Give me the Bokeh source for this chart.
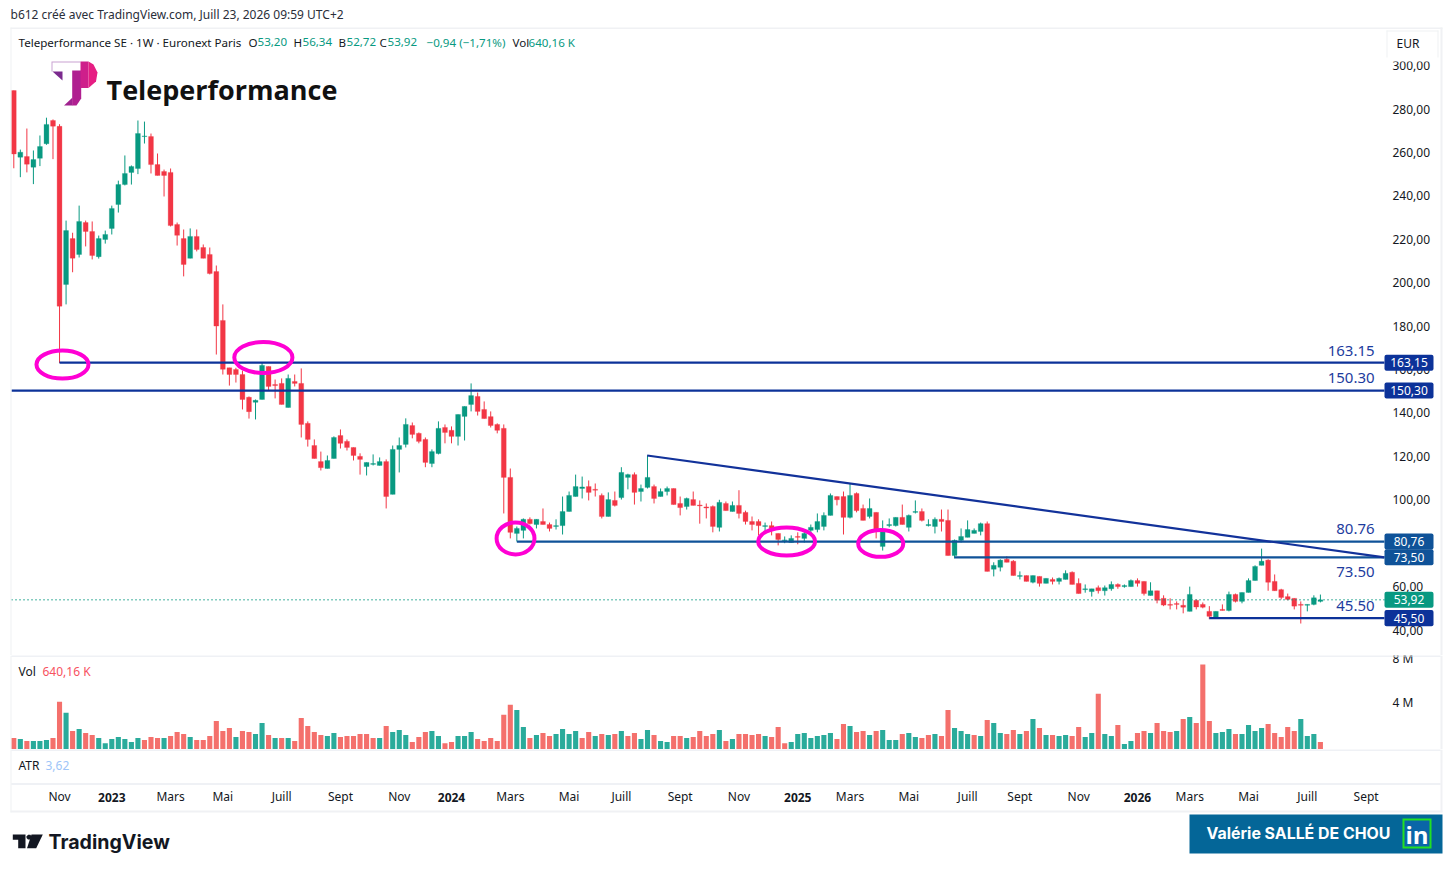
from bokeh.plotting import figure
from bokeh.layouts import column
from bokeh.models import (Range1d, LinearAxis, FixedTicker, Label, BoxAnnotation, PolyAnnotation,
                          ColumnDataSource)
from bokeh.core.properties import value
from bokeh.embed import file_html
from bokeh.resources import INLINE

opens = [288.5,257.8,258.1,253.2,257.3,264,274.7,272,199.2,220.3,
213,227.7,223.6,212,219.9,225,236,245.2,250.8,252.6,
267.3,267.3,254.4,251.2,250.8,226.8,220.3,211.2,221.3,216.2,
213,205.1,182.6,160.8,160,157.7,147.2,144.9,146.2,161.4,
153.1,153.6,142.5,154.5,153.6,135.2,125,117.6,114.4,119,
129.6,126.9,124.1,120,115.3,116.3,115.8,117.6,102.5,123.2,
125.5,134.2,130.6,127.8,116.7,121.3,133.3,132,129.2,138.4,
143.9,147.6,141.6,138.3,134.7,132.9,110.3,84.5,85.9,91,
88.6,90,88.6,87.7,88.1,94.6,101.5,105.2,106.1,104.8,
102,92.3,99.7,101,110.3,111.6,103.8,105.7,106.1,101.5,
103.8,105.2,98.3,96.9,100.1,97.6,96.7,96.9,87.3,98.3,
94.6,97.4,94.2,90,90,87.7,88.1,84.5,81.2,80.3,
83.1,82.2,85.9,86.3,87.7,92.8,101.5,101.5,91.9,102.9,
96,92.3,94.2,78.5,88.1,88.1,91.9,87.3,94.2,94.6,
88.1,87.7,91,90.5,74.3,81.3,82.7,84.5,85.4,89,
68,68.9,72.6,71.7,64.7,65.1,62,64.7,61.5,63.3,
62.4,63.3,66.6,61.5,58.6,57.7,59.5,58.1,59,61,
60,60,62.8,62.4,55.9,58.1,54.6,51.8,52.2,51.4,
48.6,53.7,51.8,48.6,46,49.5,49,56.4,53.2,57.3,
62.8,69.8,72.2,62.4,58.6,55.4,54.6,51.8,51.4,51.8,
53.2]
highs = [288.5,261.3,271,260.9,267.8,276,275.2,273,228.6,223,
235.5,228.6,228.2,221.7,224,235.5,247,258.6,254,274.7,
274.2,268.7,259.5,252.1,252.6,227.7,224.5,225,224.5,217.6,
216.2,207.9,190,160.8,160.8,159.5,147.6,146.2,163.2,161.4,
155.4,155.9,157.7,157.7,160.5,136.1,127.8,122.2,120.4,129.2,
132.4,127.8,124.1,121.4,117.2,120.9,119.5,118.6,125,128.7,
137.5,135.6,131,128.7,123.2,136.1,134.7,133.8,139.3,143,
153.6,149.4,145.3,140.7,135.2,134.7,114.4,87.7,91.4,91.9,
91,96,89.5,91,101.5,103.8,111.6,110.7,108.9,107.5,
102.9,103.4,103.8,115,112,112.6,107,120.4,107,105.2,
106.1,105.2,101.5,101,103.8,99.7,98.3,97.4,100,99.2,
99.2,104.4,95,92.3,91,89.5,90,84.5,83.1,83.6,
85,86.3,88.6,93.7,94.2,102.9,101.5,103.8,107.5,103.4,
97.8,100.6,94.2,90.5,91.4,91.9,97.8,93.2,99.7,96,
91,91.9,95.5,95.5,81.7,86.8,90.5,86.8,89.5,90,
71.2,72.6,74,72.2,67,65.1,65.1,64.7,63.8,64.2,
64.2,67.5,67,63.8,61,59,60.5,60.5,62.4,61.5,
61,63.3,63.8,62.4,62,58.1,56,54.6,53.2,54.1,
60,54.1,52.7,51,48.6,51.8,57.7,56.8,57.3,63.8,
69.8,77.5,72.6,65.6,59,56.8,54.6,53.2,51.8,56,
56.34]
lows = [252.7,248.6,250.8,245.4,253.7,263.5,256.9,163,190,204.8,
211.6,216.7,210.7,211.1,218,222.2,232.3,244.8,245.2,250,
264.1,250.3,249.4,239.7,225.9,217.1,202.9,211.2,214.4,211.2,
203.8,166.9,157.7,152.6,154,141.6,137.4,137,146.2,150.3,
146.7,143.9,142.5,152.2,128.7,124.5,119,113.5,114.4,119,
123.6,122.7,118.1,111.6,111.2,115.8,115.8,96,102.5,112.6,
124.1,128.3,126,115,115,120.9,126,126,125,127.3,
140.7,138.8,137.4,133.3,130.6,93.7,82.2,80.8,82.2,88.6,
86.8,88.6,85.4,86.3,84,94.6,101.5,100.6,99.7,101.5,
91.4,92.3,96.9,100.1,104.8,97.8,99.2,105.2,98.3,101.5,
102,97.8,92.8,95.5,97.4,89,91.4,85,85.4,95,
94.6,91.4,88.6,85.9,83.6,85.4,83.6,79,80,80.3,
79.5,80.3,84.5,85,85.9,92.8,97.4,84,91.4,94.2,
90.5,91.4,82.2,76.6,87.3,87.7,88.6,85.4,93.7,90,
87.7,84.5,85.4,74.3,73,80.3,82.7,84.5,83.6,67,
64.7,67,71.2,65.1,63.3,62.4,61.5,60,61.5,61,
61,63.3,61,56.8,57.2,55.4,56.8,55.9,58.1,59,
59.5,60,60,55.9,55.9,52.3,51,49.5,49.5,47.7,
48.6,49.5,50,45,46,49,48.6,52.7,52.3,57.3,
62.8,69.8,58.1,58.1,54.1,53.7,49.5,43,48.6,51.4,
52.72]
closes = [259.3,260.1,254.6,256.7,262.7,272.9,272.1,189.2,224,211.3,
228.2,223.6,212.5,220.3,222.2,234.2,245.2,250.3,253.5,268.7,
267.6,254.4,249.4,249.4,226.3,221.8,208.4,221.3,215.3,211.2,
204.2,180,160.1,157.7,157.7,146.2,140.6,145.8,161.9,152.2,
152.6,143.9,155.9,153.6,134.7,127.8,119,114.8,118.1,128.7,
126,124.1,120.4,118.6,117.2,116.7,117.6,101.5,123.2,125,
134.7,130.1,126.9,117.2,122.2,132.9,131,129.2,139.3,143,
148,140.7,137.4,134.2,132,110.3,85,86.8,91,89,
91,88.6,86.8,88.1,94.6,102,106.1,105.9,103.4,104.4,
92.3,100.1,97.4,112.6,111.6,103.4,105.2,110.3,100.6,103.8,
105.2,97.8,96.4,100.6,97.4,97.2,96.2,87.7,98.8,95,
97.4,93.7,90,88.6,88.1,88.1,85.9,81.7,81.5,82.2,
82.7,84.5,87.3,90,92.8,102,100,91.9,102,95,
90.5,96,85.4,85.6,88.6,91.9,88.6,92.8,94.6,90.5,
88.6,91,90,74.3,81.3,83.1,86.3,85.9,89,67,
69.8,72.2,71.2,65.1,65.1,62.4,65.1,61.5,63.8,62.4,
63.8,66.1,61,56.8,59,59,58.1,59.5,61,60,
60.5,62.8,61.5,56.8,58.1,53.7,51.5,51.4,51.8,50.5,
56.4,50.6,50.5,46.3,48.6,49,56.4,53.2,57.3,62.8,
69.3,71.7,62,58.1,55,54.1,51,51.4,51.8,54.86,
53.92]
volumes_m = [.97,.89,.72,.72,.72,.80,.97,4.06,3.12,1.57,
1.74,1.40,1.23,.97,.54,.89,1.06,.89,.63,.97,
.80,1.06,.97,.97,1.14,1.49,1.32,1.06,.80,.80,
1.14,2.43,1.57,1.83,1.06,1.57,1.49,1.32,2.26,1.23,
.97,.97,.97,.72,2.69,2.0,1.49,1.23,1.14,1.40,
1.06,1.14,1.14,1.32,1.32,.97,.97,2.0,1.49,1.66,
1.23,.63,1.06,1.49,1.57,1.14,.54,.63,1.14,1.14,
1.49,.89,.72,.97,.72,2.95,3.8,3.37,1.92,.97,
1.23,1.40,1.14,1.32,1.74,1.32,1.57,.97,1.49,1.14,
1.32,1.23,1.32,1.57,1.14,1.40,.89,1.66,1.23,.72,
.63,1.14,1.14,.97,1.06,1.57,1.14,1.32,1.66,.72,
.89,1.32,1.32,1.23,1.32,1.14,1.06,1.92,.54,.63,
1.32,1.40,.97,1.14,1.23,1.40,.89,2.17,2.0,1.49,
1.57,1.23,1.57,1.66,.80,.80,1.32,1.40,1.06,.97,
1.23,1.32,1.14,3.37,1.83,1.57,1.32,1.23,1.14,2.52,
2.26,1.40,1.32,1.66,1.32,1.57,2.6,1.83,1.23,1.23,
1.14,1.23,1.14,1.92,1.06,1.40,4.75,1.32,1.14,2.09,
.46,.72,1.40,1.57,1.40,2.26,1.57,1.49,1.57,2.6,
2.77,2.26,7.24,2.43,1.40,1.49,1.74,1.32,1.32,2.09,
1.57,1.83,2.17,1.40,1.06,1.92,1.57,2.6,1.14,1.32,
.64]
assert all(len(a) == 201 for a in (opens, highs, lows, closes, volumes_m))

price_ticks = [40,60,80,100,120,140,160,180,200,220,240,260,280,300]
level_values = [163.15, 150.30, 80.76, 73.50, 45.50]
level_starts = [7, -0.35, 77, 144, 183]
level_colors = ["#0C3299", "#0C3299", "#0F5298", "#0F5298", "#0C3299"]
level_notes = ["163.15", "150.30", "80.76", "73.50", "45.50"]
note_prices = [168.6, 156.0, 86.5, 66.6, 51.0]
trend_x = [96.95, 209.8]
trend_y = [120.4, 73.5]
last_close = 53.92
ring_x = [7.45, 38.2, 76.8, 118.3, 132.7]
ring_y = [162.3, 165.5, 82.2, 80.8, 79.9]
ring_w = [7.96, 8.9, 5.8, 8.7, 6.9]
ring_h = [12.9, 14.3, 14.7, 12.9, 12.4]
time_idx = [7,15,24,32,41,50,59,67,76,85,93,102,111,120,128,137,146,154,163,172,180,189,198,207]
time_txt = ["Nov","2023","Mars","Mai","Juill","Sept","Nov","2024","Mars","Mai","Juill","Sept",
            "Nov","2025","Mars","Mai","Juill","Sept","Nov","2026","Mars","Mai","Juill","Sept"]

RED, GREEN = "#F23645", "#089981"
VRED, VGREEN = "#F4706C", "#2AAB9B"
GRID = "#E0E3EB"; EDGE = "#F0F1F4"; INK = "#131722"
FONT = "Noto Sans"

W = 1445
x_range = Range1d(-2.036, 219.15)

def fig(h, yr):
    f = figure(width=W, height=h, x_range=x_range, y_range=yr, output_backend="svg", toolbar_location=None,
               min_border_left=0, min_border_right=0, min_border_top=0, min_border_bottom=0,
               x_axis_type=None, y_axis_type=None, outline_line_color=None,
               background_fill_color="white", border_fill_color="white")
    f.grid.visible = False
    return f

main = fig(655, Range1d(28.27, 329.98))
vol = fig(94, Range1d(0, 8.0))
atr = fig(116, Range1d(0, 1))
TOP = {id(main): 0, id(vol): 655, id(atr): 749}
LEVEL = "overlay"

def text(f, px, py, s, color=INK, size=12, font=FONT, style="normal", align="left"):
    t = TOP[id(f)]
    f.add_layout(Label(x=px, y=py-t, x_units="canvas", y_units="canvas", text=s, text_color=color,
                       text_font_size=f"{size}px", text_font=font, text_font_style=style,
                       text_align=align, text_baseline="middle", level=LEVEL))

def box(f, l, r, t_, b, color, radius=0):
    t = TOP[id(f)]
    f.add_layout(BoxAnnotation(left=l, right=r, top=t_-t, bottom=b-t, left_units="canvas", right_units="canvas",
                               top_units="canvas", bottom_units="canvas", fill_color=color, fill_alpha=1,
                               line_color=None, border_radius=radius, level=LEVEL))

def poly(f, xs, ys, color):
    t = TOP[id(f)]
    f.add_layout(PolyAnnotation(xs=list(xs), ys=[y-t for y in ys], xs_units="canvas", ys_units="canvas",
                                fill_color=color, fill_alpha=1, line_color=None, level=LEVEL))

idx = list(range(201))
src = ColumnDataSource(dict(x=idx, o=opens, h=highs, l=lows, c=closes,
    top=[max(a, b) for a, b in zip(opens, closes)], bot=[min(a, b) for a, b in zip(opens, closes)],
    col=[GREEN if c >= o else RED for o, c in zip(opens, closes)]))
main.segment("x", "h", "x", "l", source=src, line_color="col", line_width=1)
main.vbar("x", 0.74, "top", "bot", source=src, fill_color="col", line_color="col", line_width=0.3)
main.line([-0.35, 209.8], [last_close, last_close], line_color=GREEN, line_width=1.5, line_dash="1 3")
main.segment(level_starts, level_values, [209.8]*5, level_values, line_color=level_colors, line_width=2.2)
main.line(trend_x, trend_y, line_color="#12329A", line_width=2.2)
main.ellipse(ring_x, ring_y, width=ring_w, height=ring_h, fill_color=None, line_color="#FF00D4", line_width=4)
main.text([208.3]*5, note_prices, text=level_notes, text_color="#1D3C9E", text_font=value(FONT),
          text_font_size="15px", text_align="right", text_baseline="middle")

def axis_style():
    return dict(major_tick_line_color=None, minor_tick_line_color=None, axis_line_color=None,
                major_tick_out=0, major_tick_in=0, minor_tick_out=0, minor_tick_in=0,
                major_label_text_font=FONT, major_label_text_font_size="12px", major_label_text_color=INK)

pa = LinearAxis(ticker=FixedTicker(ticks=price_ticks),
                major_label_overrides={v: f"{v},00" for v in price_ticks},
                major_label_standoff=-53, **axis_style())
main.add_layout(pa, "right")

for v, c, s in zip(level_values + [last_close], level_colors + [GREEN],
                   ["163,15", "150,30", "80,76", "73,50", "45,50", "53,92"]):
    main.add_layout(BoxAnnotation(left=1384, right=1433, left_units="canvas", right_units="canvas",
                                  top=v+3.7, bottom=v-3.7, fill_color=c, fill_alpha=1, line_color=None,
                                  border_radius=2, level=LEVEL))
    main.add_layout(Label(x=1408.5, y=v, x_units="canvas", text=s, text_color="white", text_font=FONT,
                          text_font_size="12px", text_align="center", text_baseline="middle", level=LEVEL))

text(main, 10, 14, "b612 créé avec TradingView.com, Juill 23, 2026 09:59 UTC+2", "#2A2E39")
text(main, 18, 41.5, "Teleperformance SE · 1W · Euronext Paris", size=11.6)
for px, s, c in [(248, "O", INK), (257, "53,20", GREEN), (293, "H", INK), (302, "56,34", GREEN),
                 (338, "B", INK), (346, "52,72", GREEN), (379, "C", INK), (387, "53,92", GREEN),
                 (426, "−0,94 (−1,71%)", GREEN), (512, "Vol", INK), (528, "640,16 K", GREEN)]:
    text(main, px, 41.5, s, c, size=11.6)

box(main, 1386, 1438, 30, 61, "white")
box(main, 1386, 1438, 30, 31, EDGE); box(main, 1386, 1387, 30, 57, EDGE); box(main, 1437, 1438, 30, 57, EDGE)
text(main, 1396, 43, "EUR")

poly(main, [51, 80, 80, 52, 52, 51], [61, 61, 62, 62, 71, 71], "#C9A2D2")
poly(main, [52, 62, 62], [71, 71, 80], "#7B2A8E")
poly(main, [63.5, 72, 72], [105, 105, 97], "#A0228F")
poly(main, [71.7, 80.7, 80.7, 76, 71.7], [70, 70, 98, 105, 105], "#B01F90")
poly(main, [80, 88, 88, 80], [61, 61, 87.5, 87.5], "#CE1F8B")
poly(main, [88, 93, 97, 95.5, 88], [61, 64, 72, 81, 87.5], "#E61E83")
text(main, 106, 88.5, "Teleperformance", "#111111", 27, "Open Sans", "bold")

prev = [None] + closes[:-1]
vcol = [VRED if p is None or c < p else VGREEN for c, p in zip(closes, prev)]
vol.vbar(idx, 0.78, volumes_m, 0, fill_color=vcol, line_color=None)
va = LinearAxis(ticker=FixedTicker(ticks=[4]), major_label_overrides={4: "4 M"},
                major_label_standoff=-53, **axis_style())
vol.add_layout(va, "right")
text(vol, 1392, 657.5, "8 M")
text(vol, 18, 671, "Vol")
text(vol, 42, 671, "640,16 K", "#F7525F")

ta = LinearAxis(ticker=FixedTicker(ticks=time_idx),
                major_label_overrides={i: ("" if s.isdigit() else s) for i, s in zip(time_idx, time_txt)},
                major_label_standoff=-78, **axis_style())
atr.add_layout(ta, "below")
for i, s in zip(time_idx, time_txt):
    if s.isdigit():
        atr.add_layout(Label(x=i, y=796.5-749, y_units="canvas", text=s, text_color=INK, text_font=FONT,
                             text_font_style="bold", text_font_size="12px", text_align="center",
                             text_baseline="middle", level=LEVEL))
text(atr, 18, 765, "ATR")
text(atr, 45, 765, "3,62", "#9EC5F8")

box(main, 10, 1442, 27, 28.5, EDGE)
for f, a, b in [(main, 27, 655), (vol, 655, 749), (atr, 749, 812)]:
    box(f, 10, 11, a, b, EDGE)
    box(f, 1440, 1442, a, b, EDGE)
box(vol, 11, 1440, 655, 656, GRID)
box(atr, 11, 1440, 749, 750, GRID)
box(atr, 11, 1440, 783, 784, GRID)
box(atr, 10, 1442, 810, 812, EDGE)

poly(atr, [12.3, 25, 25, 17.7, 17.7, 12.3], [834, 834, 847.7, 847.7, 839.3, 839.3], "#131722")
poly(atr, [26, 27.5, 30, 31, 30, 27.5, 26], [836, 834.2, 834.2, 836.5, 839, 839, 837.5], "#131722")
poly(atr, [31, 42.3, 35.7, 26.5], [834, 834, 847.7, 847.7], "#131722")
text(atr, 48, 841, "TradingView", "#131722", 19.6, "Inter", "bold")

box(atr, 1189, 1442, 814, 853, "#046698")
text(atr, 1298, 833, "Valérie SALLÉ DE CHOU", "white", 15.9, "Inter", "bold", "center")
box(atr, 1402, 1431, 818, 848, "#22E022")
box(atr, 1404, 1429, 820, 846, "#0A66A8")
text(atr, 1416.5, 834, "in", "white", 24, "Open Sans", "bold", "center")

page = column(main, vol, atr, spacing=0)
open("out.html", "w").write(file_html(page, INLINE))
